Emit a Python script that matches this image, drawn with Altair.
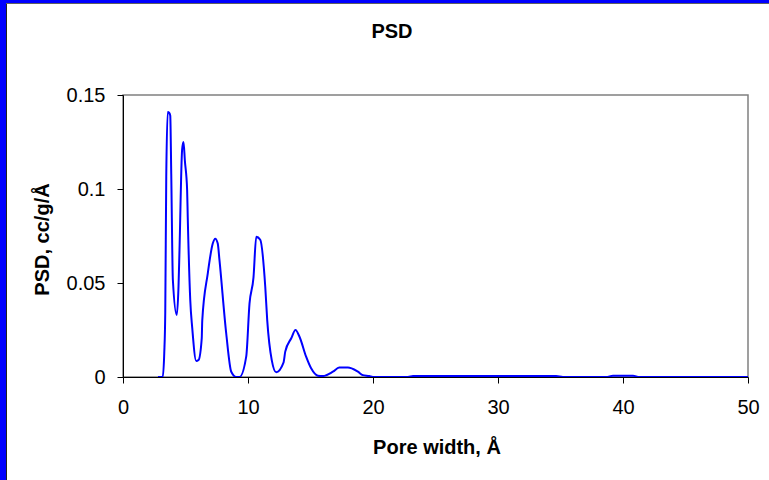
import altair as alt
import pandas as pd

pore_width = [2.8, 3.18, 3.3, 3.38, 3.46, 3.58, 3.7, 3.78, 3.86, 3.99,
              4.3, 4.44, 4.52, 4.73, 4.84, 4.95, 5.13, 5.18, 5.38, 5.54,
              5.86, 6.04, 6.3, 6.34, 6.78, 7.18, 7.38, 7.58, 7.72, 8.26,
              8.66, 9.06, 9.32, 9.86, 10.12, 10.44, 10.66, 10.98, 11.38, 11.54,
              11.9, 12.26, 12.84, 12.98, 13.46, 13.8, 14.12, 14.65, 15.05, 15.59,
              15.99, 16.79, 17.3, 17.99, 18.79, 19.19, 19.7, 19.99, 22.8, 23.2,
              34.65, 35.2, 38.65, 39.2, 40.8, 41.3, 50]
psd = [0, 0, 0.0126, 0.034, 0.1065, 0.141, 0.1405, 0.139, 0.108, 0.0516,
       0.033, 0.048, 0.0676, 0.121, 0.125, 0.115, 0.0995, 0.085, 0.041, 0.026,
       0.0085, 0.009, 0.0207, 0.030, 0.055, 0.071, 0.0736, 0.071, 0.062, 0.023,
       0.0028, 0, 0, 0.011, 0.039, 0.053, 0.0746, 0.073, 0.048, 0.030,
       0.009, 0.0025, 0.0076, 0.0135, 0.0206, 0.025, 0.0214, 0.0108, 0.0046, 0.0007,
       0.0005, 0.0028, 0.005, 0.005, 0.0028, 0.001, 0.0005, 0, 0, 0.0005,
       0.0005, 0, 0, 0.0007, 0.0007, 0, 0]

x_ticks = [0, 10, 20, 30, 40, 50]
y_ticks = [0, 0.05, 0.1, 0.15]
chart_title = "PSD"

df = pd.DataFrame({"w": pore_width, "p": psd})

FONT = "Liberation Sans"

line = alt.Chart(df).mark_line(color="#0000FF", strokeWidth=2, clip=True,
                               interpolate="monotone").encode(
    x=alt.X("w:Q", scale=alt.Scale(domain=[0, 50], nice=False),
            axis=alt.Axis(values=x_ticks, format="d", title="Pore width, Å",
                          titleX=313.5, titleY=70, titleBaseline="middle",
                          labelPadding=14, labelFlush=False)),
    y=alt.Y("p:Q", scale=alt.Scale(domain=[0, 0.15], nice=False),
            axis=alt.Axis(values=y_ticks, format=".2~f", title="PSD, cc/g/Å",
                          titleAngle=-90, titleX=-81, titleY=144,
                          titleAlign="center", titleBaseline="middle",
                          labelPadding=12, labelFlush=False)),
)

frame_data = alt.Data(values=[{}])
left_bar = alt.Chart(frame_data).mark_rect(color="#0000FF").encode(
    x=alt.value(-123), x2=alt.value(-117), y=alt.value(-95), y2=alt.value(385))
top_bar = alt.Chart(frame_data).mark_rect(color="#0000FF").encode(
    x=alt.value(-123), x2=alt.value(646), y=alt.value(-95), y2=alt.value(-92))
left_edge = alt.Chart(frame_data).mark_rule(color="#202020", strokeWidth=1).encode(
    x=alt.value(-116.5), y=alt.value(-92), y2=alt.value(385))
top_edge = alt.Chart(frame_data).mark_rule(color="#606060", strokeWidth=1).encode(
    x=alt.value(-117), x2=alt.value(646), y=alt.value(-91.5))
title_text = alt.Chart(frame_data).mark_text(
    text=chart_title, font=FONT, fontSize=20, fontWeight="bold", color="black",
    align="center", baseline="middle").encode(
    x=alt.value(269), y=alt.value(-63))

chart = alt.layer(line, left_bar, top_bar, left_edge, top_edge, title_text).properties(
    width=625, height=282,
    autosize=alt.AutoSizeParams(type="none"),
    padding={"left": 123, "top": 95, "right": 21, "bottom": 103},
    background="white",
).configure_view(
    stroke="#808080", strokeWidth=1.5
).configure_axis(
    grid=False, domainColor="black", tickColor="black", tickSize=6,
    labelFont=FONT, labelFontSize=20, labelColor="black",
    titleFont=FONT, titleFontSize=20, titleFontWeight="bold", titleColor="black",
)

chart.save("out.html", embed_options={"renderer": "svg", "actions": False})
